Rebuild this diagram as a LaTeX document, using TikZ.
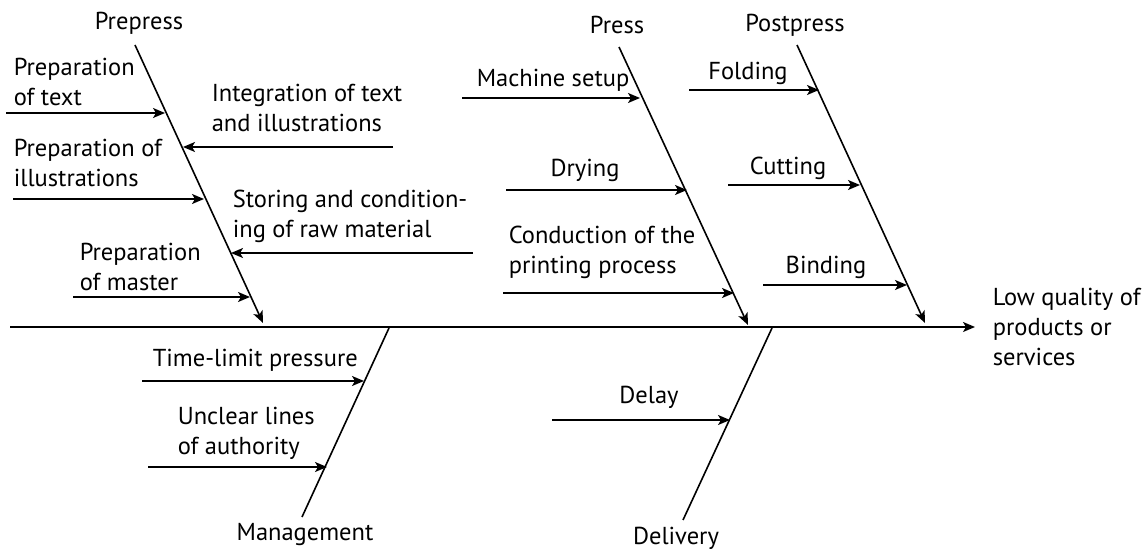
\documentclass[tikz,border=0pt]{standalone}
\usepackage{fontspec}
\setmainfont{PT Sans}
\usetikzlibrary{arrows.meta,positioning}

\begin{document}
\begin{tikzpicture}[
        x=1pt, y=-1pt,
        every node/.style={inner sep=0pt, align=left, font=\fontsize{24.5}{30}\selectfont},
        every path/.style={line width=1.6pt},
        cause/.style={-{Stealth[length=12pt,width=10pt,inset=3pt]}},
        label/.style={anchor=west}
    ]
  \useasboundingbox (0,0) rectangle (1147,553);

  % Spine
  \coordinate (tail) at (10,327);
  \coordinate (head) at (975,327);
  \node (effect) [label] at (992,327) {Low quality of\\products or\\services};
  \draw[cause] (tail) -- (head);

  % Bones
  \coordinate (pre top) at (135,45);
  \coordinate (pre end) at (263,323);
  \coordinate (press top) at (619,47);
  \coordinate (press end) at (748,325);
  \coordinate (post top) at (797,45);
  \coordinate (post end) at (925,323);
  \coordinate (man bot) at (302,517);
  \coordinate (man end) at (389,328);
  \coordinate (del bot) at (683,520);
  \coordinate (del end) at (772,328);

  \node (prepress) at (139,23) {Prepress};
  \node (press) at (617,25) {Press};
  \node (postpress) at (795,25) {Postpress};
  \node (management) at (305,535) {Management};
  \node (delivery) at (676,538) {Delivery};

  \draw[cause] (pre top) -- (pre end);
  \draw[cause] (press top) -- (press end);
  \draw[cause] (post top) -- (post end);
  \draw (man bot) -- (man end);
  \draw (del bot) -- (del end);

  % Prepress causes
  \node (text) [label] at (13,82) {Preparation\\of text};
  \node (integ) [label] at (211,108) {Integration of text\\and illustrations};
  \node (illus) [label] at (13,163) {Preparation of\\illustrations};
  \node (store) [label] at (232,216) {Storing and condition-\\ing of raw material};
  \node (master) [label] at (79,267) {Preparation\\of master};
  \coordinate (text a) at (6,113);      \coordinate (text b) at (165,113);
  \coordinate (integ a) at (393,147);   \coordinate (integ b) at (183,147);
  \coordinate (illus a) at (13,199);    \coordinate (illus b) at (204,199);
  \coordinate (store a) at (473,253);   \coordinate (store b) at (231,253);
  \coordinate (master a) at (73,297);   \coordinate (master b) at (250,297);
  \draw[cause] (text a) -- (text b);
  \draw[cause] (integ a) -- (integ b);
  \draw[cause] (illus a) -- (illus b);
  \draw[cause] (store a) -- (store b);
  \draw[cause] (master a) -- (master b);

  % Press causes
  \node (setup) [label] at (476,80) {Machine setup};
  \node (drying) at (585,170) {Drying};
  \node (conduct) [label] at (508,252) {Conduction of the\\printing process};
  \coordinate (setup a) at (462,98);    \coordinate (setup b) at (640,98);
  \coordinate (drying a) at (506,190);  \coordinate (drying b) at (687,190);
  \coordinate (conduct a) at (503,293); \coordinate (conduct b) at (734,293);
  \draw[cause] (setup a) -- (setup b);
  \draw[cause] (drying a) -- (drying b);
  \draw[cause] (conduct a) -- (conduct b);

  % Postpress causes
  \node (folding) at (748,73) {Folding};
  \node (cutting) at (788,168) {Cutting};
  \node (binding) at (826,267) {Binding};
  \coordinate (folding a) at (689,90);  \coordinate (folding b) at (819,90);
  \coordinate (cutting a) at (728,185); \coordinate (cutting b) at (860,185);
  \coordinate (binding a) at (763,285); \coordinate (binding b) at (907,285);
  \draw[cause] (folding a) -- (folding b);
  \draw[cause] (cutting a) -- (cutting b);
  \draw[cause] (binding a) -- (binding b);

  % Management causes
  \node (time) [label] at (152,360) {Time-limit pressure};
  \node (unclear) [label] at (177,433) {Unclear lines\\of authority};
  \coordinate (time a) at (142,381);    \coordinate (time b) at (364,381);
  \coordinate (unclear a) at (148,467); \coordinate (unclear b) at (327,467);
  \draw[cause] (time a) -- (time b);
  \draw[cause] (unclear a) -- (unclear b);

  % Delivery causes
  \node (delay) at (649,397) {Delay};
  \coordinate (delay a) at (552,420);   \coordinate (delay b) at (730,420);
  \draw[cause] (delay a) -- (delay b);
\end{tikzpicture}
\end{document}
